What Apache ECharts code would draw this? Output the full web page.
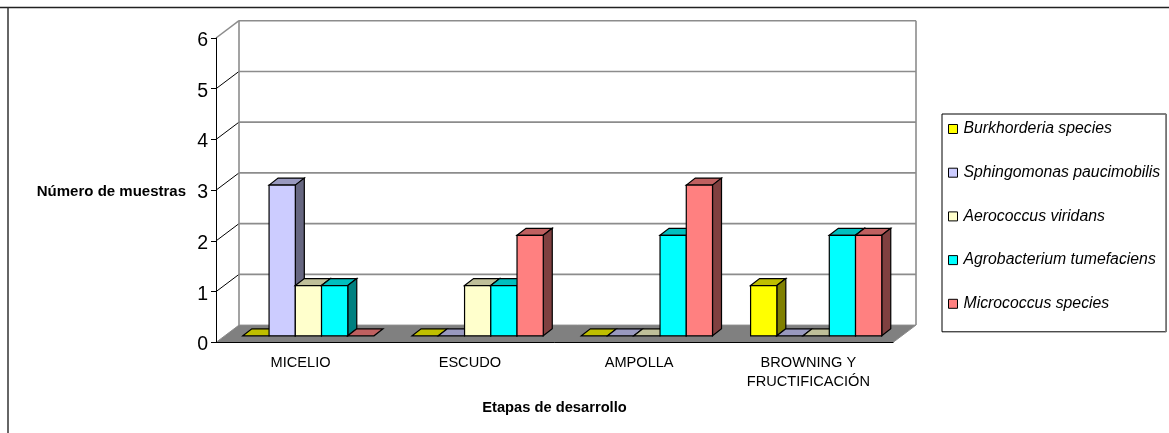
<!DOCTYPE html>
<html>
<head>
<meta charset="utf-8">
<style>html,body{margin:0;padding:0;background:#fff}#chart{width:1169px;height:433px}</style>
<script src="https://cdn.jsdelivr.net/npm/echarts@6/dist/echarts.min.js"></script>
</head>
<body>
<div id="chart"></div>
<script>
// Muestras positivas por etapa de desarrollo
const categories = ['MICELIO', 'ESCUDO', 'AMPOLLA', 'BROWNING Y\nFRUCTIFICACIÓN'];
const seriesNames = ['Burkhorderia species', 'Sphingomonas paucimobilis', 'Aerococcus viridans', 'Agrobacterium tumefaciens', 'Micrococcus species'];
const burkhorderia = [0, 0, 0, 1];
const sphingomonas = [3, 0, 0, 0];
const aerococcus = [1, 1, 0, 0];
const agrobacterium = [1, 1, 2, 2];
const micrococcus = [0, 2, 3, 2];
const seriesValues = [burkhorderia, sphingomonas, aerococcus, agrobacterium, micrococcus];
const yTicks = [1, 2, 3, 4, 5, 6];

// Caras de cada columna: frontal, superior, lateral
const frontColors = ['#FFFF00', '#CCCCFF', '#FFFFCC', '#00FFFF', '#FF8080'];
const topColors = ['#BFBF00', '#9999BF', '#BFBF99', '#00BFBF', '#BF6060'];
const sideColors = ['#808000', '#666680', '#808066', '#008080', '#804040'];

const FONT = '"Liberation Sans", Arial, sans-serif';
const WALL = '#8c8c8c';
const FLOOR = '#808080';
// Proyección oblicua de la caja y de las columnas
const boxDepth = [23, -17.3];
const barDepth = [9, -7];
const barLift = [0, -6.6];
const barShare = 0.155;
const groupShift = 7.8;
const heightScale = 0.99;

function renderWall(params, api) {
  const box = params.coordSys;
  const v = api.value(0);
  const y = api.coord([0, v])[1];
  const x0 = box.x, x1 = box.x + box.width;
  const bx = x0 + boxDepth[0], by = y + boxDepth[1];
  return {
    type: 'group',
    children: [
      { type: 'line', shape: { x1: x0, y1: y, x2: bx, y2: by },
        style: { stroke: v === 6 ? WALL : '#000', lineWidth: v === 6 ? 1.5 : 1 } },
      { type: 'line', shape: { x1: bx, y1: by, x2: x1 + boxDepth[0], y2: by },
        style: { stroke: WALL, lineWidth: 1.6 } }
    ]
  };
}

function renderFloor(params, api) {
  const box = params.coordSys;
  const y0 = api.coord([0, 0])[1], y6 = api.coord([0, 6])[1];
  const x0 = box.x, x1 = box.x + box.width;
  const d = boxDepth;
  return {
    type: 'group',
    children: [
      { type: 'polygon', shape: { points: [[x0, y0], [x0 + d[0], y0 + d[1]], [x1 + d[0], y0 + d[1]], [x1, y0]] },
        style: { fill: FLOOR, stroke: WALL, lineWidth: 1 } },
      { type: 'line', shape: { x1: x0 + d[0], y1: y0 + d[1], x2: x0 + d[0], y2: y6 + d[1] },
        style: { stroke: WALL, lineWidth: 1.6 } },
      { type: 'line', shape: { x1: x1 + d[0], y1: y0 + d[1], x2: x1 + d[0], y2: y6 + d[1] },
        style: { stroke: WALL, lineWidth: 1.6 } }
    ]
  };
}

function makeBarRenderer(si) {
  return function (params, api) {
    const idx = api.value(0), val = api.value(1);
    const base = api.coord([idx, 0]);
    const top = api.coord([idx, val]);
    const band = api.size([1, 0])[0];
    const w = band * barShare;
    const l = base[0] + groupShift * band / 169.25 + (si - 2.5) * w + barLift[0];
    const r = l + w;
    const by = base[1] + barLift[1];
    const ty = by - (base[1] - top[1]) * heightScale;
    const dx = barDepth[0], dy = barDepth[1];
    const edge = { stroke: '#000', lineWidth: 1.2, lineJoin: 'miter' };
    const children = [
      { type: 'polygon', shape: { points: [[l, ty], [l + dx, ty + dy], [r + dx, ty + dy], [r, ty]] },
        style: Object.assign({ fill: topColors[si] }, edge) }
    ];
    if (val > 0) {
      children.push(
        { type: 'polygon', shape: { points: [[r, ty], [r + dx, ty + dy], [r + dx, by + dy], [r, by]] },
          style: Object.assign({ fill: sideColors[si] }, edge) },
        { type: 'rect', shape: { x: l, y: ty, width: w, height: by - ty },
          style: Object.assign({ fill: frontColors[si] }, edge) }
      );
    }
    return { type: 'group', children };
  };
}

const barSeries = seriesNames.map((name, si) => ({
  name,
  type: 'custom',
  coordinateSystem: 'cartesian2d',
  z: 3,
  silent: true,
  itemStyle: { color: frontColors[si] },
  encode: { x: 0, y: 1 },
  renderItem: makeBarRenderer(si),
  data: seriesValues[si].map((v, i) => [i, v])
}));

const chart = echarts.init(document.getElementById('chart'), null, { renderer: 'canvas' });
chart.setOption({
  animation: false,
  backgroundColor: '#fff',
  grid: { left: 216, top: 38, width: 677, height: 304.4 },
  legend: {
    data: seriesNames,
    orient: 'vertical',
    left: 942,
    top: 114,
    icon: 'rect',
    itemWidth: 9,
    itemHeight: 9,
    itemGap: 27.7,
    selectedMode: false,
    padding: [7, 6, 20, 6],
    borderColor: '#000',
    borderWidth: 1,
    backgroundColor: '#fff',
    itemStyle: { borderColor: '#000', borderWidth: 1 },
    textStyle: { fontFamily: FONT, fontStyle: 'italic', fontSize: 15.8, color: '#000', padding: [0, 0, 0, 1], lineHeight: 16 }
  },
  xAxis: {
    type: 'category',
    data: categories,
    z: 5,
    axisLine: { lineStyle: { color: '#000', width: 1 } },
    axisTick: { length: 5, lineStyle: { color: '#000' } },
    axisLabel: { fontFamily: FONT, fontSize: 14.6, color: '#000', margin: 11, lineHeight: 19, interval: 0 },
    name: 'Etapas de desarrollo',
    nameLocation: 'middle',
    nameGap: 58,
    nameTextStyle: { fontFamily: FONT, fontWeight: 'bold', fontSize: 14.7, color: '#000' }
  },
  yAxis: {
    type: 'value',
    min: 0,
    max: 6,
    interval: 1,
    z: 5,
    splitLine: { show: false },
    axisLine: { show: true, lineStyle: { color: '#000', width: 1 } },
    axisTick: { show: true, length: 5, lineStyle: { color: '#000' } },
    axisLabel: { fontFamily: FONT, fontSize: 19.5, color: '#000', margin: 8, verticalAlign: 'top', lineHeight: 20, padding: [-7.5, 0, 0, 0] },
    name: 'Número de muestras',
    nameLocation: 'middle',
    nameRotate: 0,
    nameGap: 30,
    nameTextStyle: { fontFamily: FONT, fontWeight: 'bold', fontSize: 15, color: '#000', verticalAlign: 'top', lineHeight: 16, padding: [-6, 0, 0, 0] }
  },
  graphic: [
    { type: 'line', z: 10, shape: { x1: 0, y1: 7.5, x2: 1169, y2: 7.5 }, style: { stroke: '#222', lineWidth: 1.5 } },
    { type: 'line', z: 10, shape: { x1: 8, y1: 7.5, x2: 8, y2: 433 }, style: { stroke: '#333', lineWidth: 1.5 } },
    { type: 'line', z: 10, shape: { x1: 1166, y1: 114, x2: 1166, y2: 332 }, style: { stroke: '#808080', lineWidth: 1.5 } }
  ],
  series: [
    { type: 'custom', coordinateSystem: 'cartesian2d', z: 1, silent: true, encode: { y: 0 }, renderItem: renderWall, data: yTicks.map(v => [v]) },
    { type: 'custom', coordinateSystem: 'cartesian2d', z: 2, silent: true, encode: { y: 0 }, renderItem: renderFloor, data: [[0]] }
  ].concat(barSeries)
});
</script>
</body>
</html>
